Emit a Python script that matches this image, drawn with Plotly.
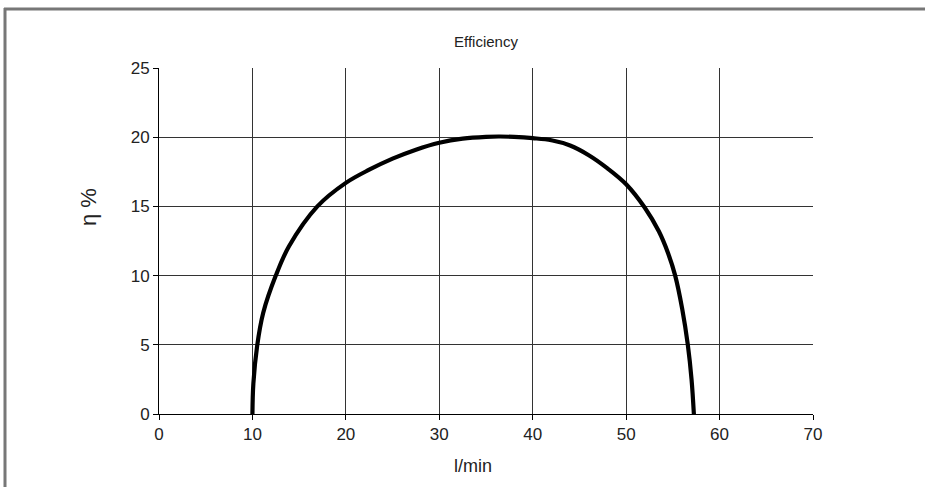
import plotly.graph_objects as go

flow = [10.0, 10.1, 10.5, 11.15, 12.5, 13.9, 16.95, 20.0, 22.5, 25.0, 27.5, 30.0, 32.5,
        35.0, 36.5, 38.0, 40.0, 42.0, 44.0, 46.0, 48.0, 50.0, 52.0, 53.5, 54.5, 55.25,
        56.0, 56.6, 57.0, 57.25]
eff = [0.0, 2.2, 4.9, 7.3, 10.0, 12.1, 15.0, 16.7, 17.65, 18.45, 19.1, 19.6, 19.9,
       20.03, 20.05, 20.02, 19.93, 19.78, 19.4, 18.7, 17.75, 16.6, 14.9, 13.2, 11.6,
       10.0, 7.6, 5.0, 2.5, 0.0]
x_ticks = [0, 10, 20, 30, 40, 50, 60, 70]
y_ticks = [0, 5, 10, 15, 20, 25]

FONT = "Liberation Sans, Arial, sans-serif"

fig = go.Figure()
fig.add_trace(go.Scatter(x=flow, y=eff, mode="lines",
                         line=dict(color="black", width=4.2, shape="spline", smoothing=1.0),
                         hoverinfo="skip", showlegend=False))

W, H = 925, 487
L, R, T, B = 159, 112, 68, 73
pw, ph = W - L - R, H - T - B

def px(xp):
    return (xp - L) / pw

def py(yp):
    return 1 - (yp - T) / ph

axis_common = dict(showgrid=True, gridcolor="#333333", gridwidth=1, showline=True,
                   linecolor="black", linewidth=1, ticks="outside", ticklen=5,
                   tickcolor="black", tickwidth=1, zeroline=False, mirror=False,
                   tickfont=dict(family=FONT, size=17, color="#222222"))

fig.update_layout(
    width=W, height=H,
    margin=dict(l=L, r=R, t=T, b=B),
    paper_bgcolor="white", plot_bgcolor="white",
    xaxis=dict(range=[0, 70], tickvals=x_ticks, ticktext=[str(v) for v in x_ticks], **axis_common),
    yaxis=dict(range=[0, 25], tickvals=y_ticks, ticktext=[str(v) for v in y_ticks], **axis_common),
    showlegend=False,
    annotations=[
        dict(text="Efficiency", x=px(486), y=py(41), xref="paper", yref="paper",
             showarrow=False, font=dict(family=FONT, size=15, color="#222222"),
             xanchor="center", yanchor="middle"),
        dict(text="η %", x=px(88), y=py(207), xref="paper", yref="paper",
             showarrow=False, textangle=-90, font=dict(family=FONT, size=22, color="#222222"),
             xanchor="center", yanchor="middle"),
        dict(text="l/min", x=px(473), y=py(466), xref="paper", yref="paper",
             showarrow=False, font=dict(family=FONT, size=18, color="#222222"),
             xanchor="center", yanchor="middle"),
    ],
    shapes=[
        dict(type="line", xref="paper", yref="paper", x0=px(4), x1=px(925), y0=py(9), y1=py(9),
             line=dict(color="#777777", width=3)),
        dict(type="line", xref="paper", yref="paper", x0=px(5), x1=px(5), y0=py(8), y1=py(487),
             line=dict(color="#777777", width=3)),
    ],
)

fig.write_html("out.html", config={"displayModeBar": False},
               post_script="document.body.style.margin='0';document.body.style.overflow='hidden';")
